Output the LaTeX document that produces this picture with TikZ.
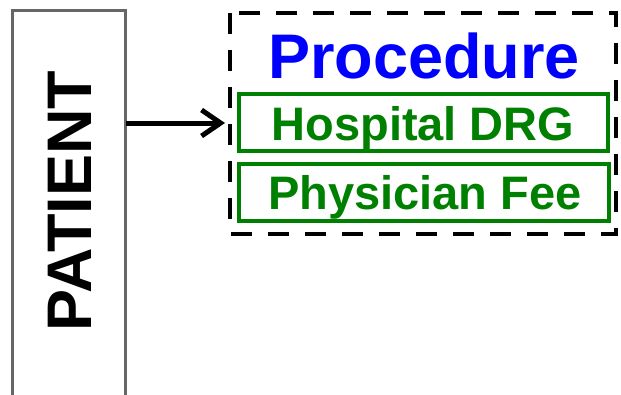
\documentclass[tikz,border=0pt]{standalone}
\usepackage{fontspec}
\setmainfont{Liberation Sans}
\usetikzlibrary{arrows.meta}
\definecolor{procblue}{RGB}{0,0,255}
\definecolor{costgreen}{RGB}{0,128,0}
\tikzset{
  patientbox/.style={draw=black!60, line width=3pt},
  groupbox/.style={draw=black, line width=4.5pt, dash pattern=on 21pt off 16pt},
  costbox/.style={draw=costgreen, line width=4pt},
  costlabel/.style={text=costgreen, font=\bfseries\fontsize{47}{47}\selectfont, anchor=base, inner sep=0pt},
  titlelabel/.style={text=procblue, font=\bfseries\fontsize{63}{63}\selectfont, anchor=base, inner sep=0pt},
  feed/.style={draw=black, line width=5pt, -{Straight Barb[length=19pt,width=26pt]}}
}
\begin{document}
\begin{tikzpicture}[x=1pt,y=-1pt]
  \useasboundingbox (0,0) rectangle (621,394);
  % patient column (runs off the bottom edge)
  \path[patientbox] (12,10) rectangle (125,410);
  \node[rotate=90, anchor=base, inner sep=0pt, font=\bfseries\fontsize{63}{63}\selectfont] (patient) at (91,201) {PATIENT};
  \coordinate (patientout) at (126,123);
  % procedure group
  \path[groupbox] (230,13) rectangle (616,234);
  \coordinate (groupin) at (225,123);
  \node[titlelabel] (proc) at (424,78) {Procedure};
  % cost components
  \path[costbox] (239,94) rectangle (608,151);
  \node[costlabel] (drg) at (423,140) {Hospital DRG};
  \path[costbox] (239,164) rectangle (609,221);
  \node[costlabel] (fee) at (425,209) {Physician Fee};
  % patient to procedure
  \draw[feed] (patientout) -- (groupin);
\end{tikzpicture}
\end{document}
